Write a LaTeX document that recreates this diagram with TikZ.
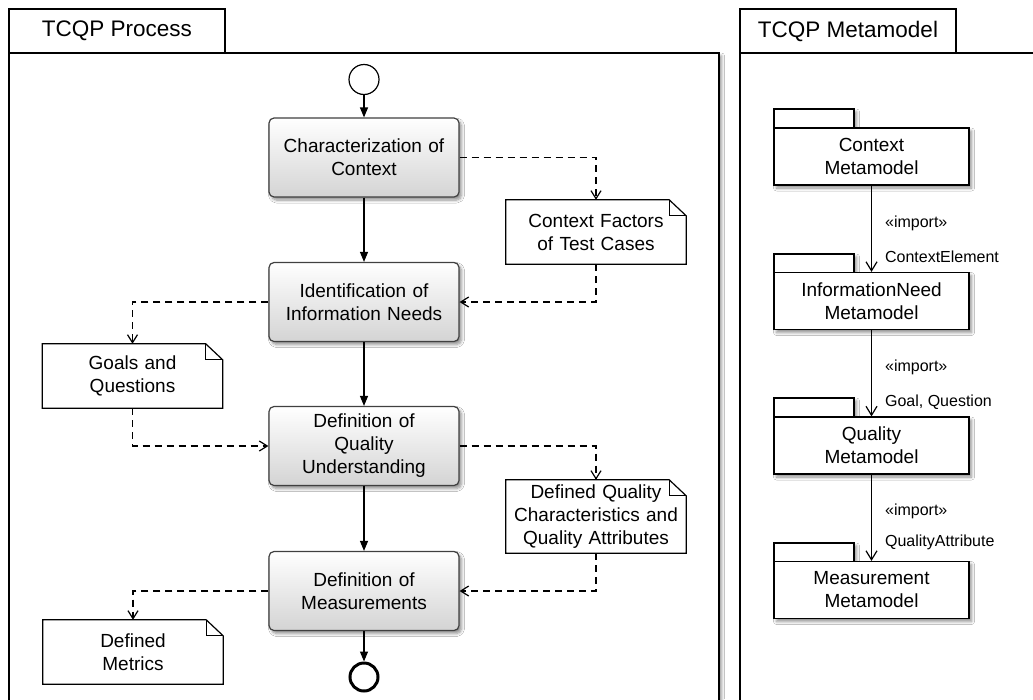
\documentclass[tikz,border=0pt]{standalone}
\usepackage{fontspec}
\setmainfont{Liberation Sans}
\usetikzlibrary{arrows.meta,shadows.blur,calc}

\tikzset{
  softshadow/.style={blur shadow={shadow xshift=2.5pt, shadow yshift=-3pt,
      shadow blur steps=6, shadow blur radius=3pt, shadow opacity=45}},
  frame/.style={draw, line width=1.2pt, fill=white, inner sep=0pt},
  frametab/.style={draw, line width=1.2pt, fill=white, inner sep=0pt,
      minimum width=216pt, minimum height=44pt, font=\fontsize{22.5}{26}\selectfont},
  procbox/.style={draw=black!75, line width=1.2pt, rounded corners=5pt,
      top color=white, bottom color=black!17, softshadow,
      minimum width=190pt, minimum height=79pt, text width=180pt, align=center,
      inner sep=0pt, font=\fontsize{19}{23}\selectfont},
  notebox/.style={minimum width=180pt, minimum height=64pt, text width=170pt,
      align=center, inner sep=0pt, font=\fontsize{19}{23}\selectfont},
  pkgtab/.style={draw, line width=1.2pt, fill=white, softshadow,
      minimum width=80pt, minimum height=19pt, inner sep=0pt},
  pkgbody/.style={draw, line width=1.2pt, fill=white, softshadow,
      minimum width=195pt, minimum height=57pt, text width=190pt, align=center,
      inner sep=0pt, font=\fontsize{19}{23}\selectfont},
  flow/.style={line width=1.2pt, -{Triangle[length=10pt,width=8pt]}},
  dataflow/.style={line width=1.2pt, dash pattern=on 7pt off 5pt,
      -{Straight Barb[length=8pt,width=10pt]}},
  importarrow/.style={line width=1.2pt, -{Straight Barb[length=9pt,width=11pt]}},
  implabel/.style={anchor=west, inner sep=0pt, font=\fontsize{16}{19}\selectfont},
}

\begin{document}
\begin{tikzpicture}[x=1pt,y=-1pt]
\useasboundingbox (0,0) rectangle (1033,699);
\clip (0,0) rectangle (1033,699);
\fill[white] (0,0) rectangle (1033,699);

% ---- containers ----
\node[frame, softshadow, minimum width=710pt, minimum height=657pt] (pframe) at (364,381.5) {};
\node[frametab] (ptab) at (117,31) {TCQP Process};
\node[frame, softshadow, minimum width=305pt, minimum height=657pt] (mframe) at (892.5,381.5) {};
\node[frametab] (mtab) at (848,31) {TCQP Metamodel};

% ---- process activities ----
\node[draw, circle, line width=1.2pt, minimum size=30pt, inner sep=0pt] (start) at (364,79.5) {};
\node[procbox] (char)  at (364,157.5) {Characterization of\\Context};
\node[procbox] (ident) at (364,302)   {Identification of\\Information Needs};
\node[procbox] (defq)  at (364,446)   {Definition of\\Quality\\Understanding};
\node[procbox] (meas)  at (364,591)   {Definition of\\Measurements};
\node[draw, circle, line width=3pt, minimum size=28pt, inner sep=0pt] (stop) at (364,677) {};

% ---- artefacts ----
\node[notebox] (cf) at (596,232)   {Context Factors\\of Test Cases};
\node[notebox] (gq) at (132.5,376) {Goals and\\Questions};
\node[notebox, minimum height=73pt] (dq) at (596,516.5) {Defined Quality\\Characteristics and\\Quality Attributes};
\node[notebox] (dm) at (133,652)   {Defined\\Metrics};

\foreach \n in {cf,gq,dq,dm}{
  \draw[line width=1.2pt, line join=miter]
    (\n.south west) -- (\n.north west) -- ($(\n.north east)+(-17,0)$)
    -- ($(\n.north east)+(0,16)$) -- (\n.south east) -- cycle;
  \draw[line width=1.2pt] ($(\n.north east)+(-17,0)$) |- ($(\n.north east)+(0,16)$);
}

% ---- control flow ----
\draw[flow] (start) -- (char);
\draw[flow] (char) -- (ident);
\draw[flow] (ident) -- (defq);
\draw[flow] (defq) -- (meas);
\draw[flow] (meas) -- (stop);

% ---- object flow ----
\draw[dataflow] (char.east) -| (cf.north);
\draw[dataflow] (cf.south) |- (ident.east);
\draw[dataflow] (ident.west) -| (gq.north);
\draw[dataflow] (gq.south) |- (defq.west);
\draw[dataflow] (defq.east) -| (dq.north);
\draw[dataflow] (dq.south) |- (meas.east);
\draw[dataflow] (meas.west) -| (dm.north);

% ---- metamodel packages ----
\node[pkgtab]  (ctxtab)  at (814,118.5) {};
\node[pkgbody] (ctx)     at (871.5,156.5) {Context\\Metamodel};
\node[pkgtab]  (infotab) at (814,263.5) {};
\node[pkgbody] (info)    at (871.5,301) {InformationNeed\\Metamodel};
\node[pkgtab]  (qualtab) at (814,407.5) {};
\node[pkgbody] (qual)    at (871.5,445.5) {Quality\\Metamodel};
\node[pkgtab]  (meastab) at (814,552.5) {};
\node[pkgbody] (measm)   at (871.5,590) {Measurement\\Metamodel};

\draw[importarrow] (ctx.south) -- (info.north)
  node[implabel, pos=0.44, xshift=13pt] {«import»}
  node[implabel, pos=0.82, xshift=13pt] {ContextElement};
\draw[importarrow] (info.south) -- (qual.north)
  node[implabel, pos=0.43, xshift=13pt] {«import»}
  node[implabel, pos=0.84, xshift=13pt] {Goal, Question};
\draw[importarrow] (qual.south) -- (measm.north)
  node[implabel, pos=0.43, xshift=13pt] {«import»}
  node[implabel, pos=0.78, xshift=13pt] {QualityAttribute};
\end{tikzpicture}
\end{document}
